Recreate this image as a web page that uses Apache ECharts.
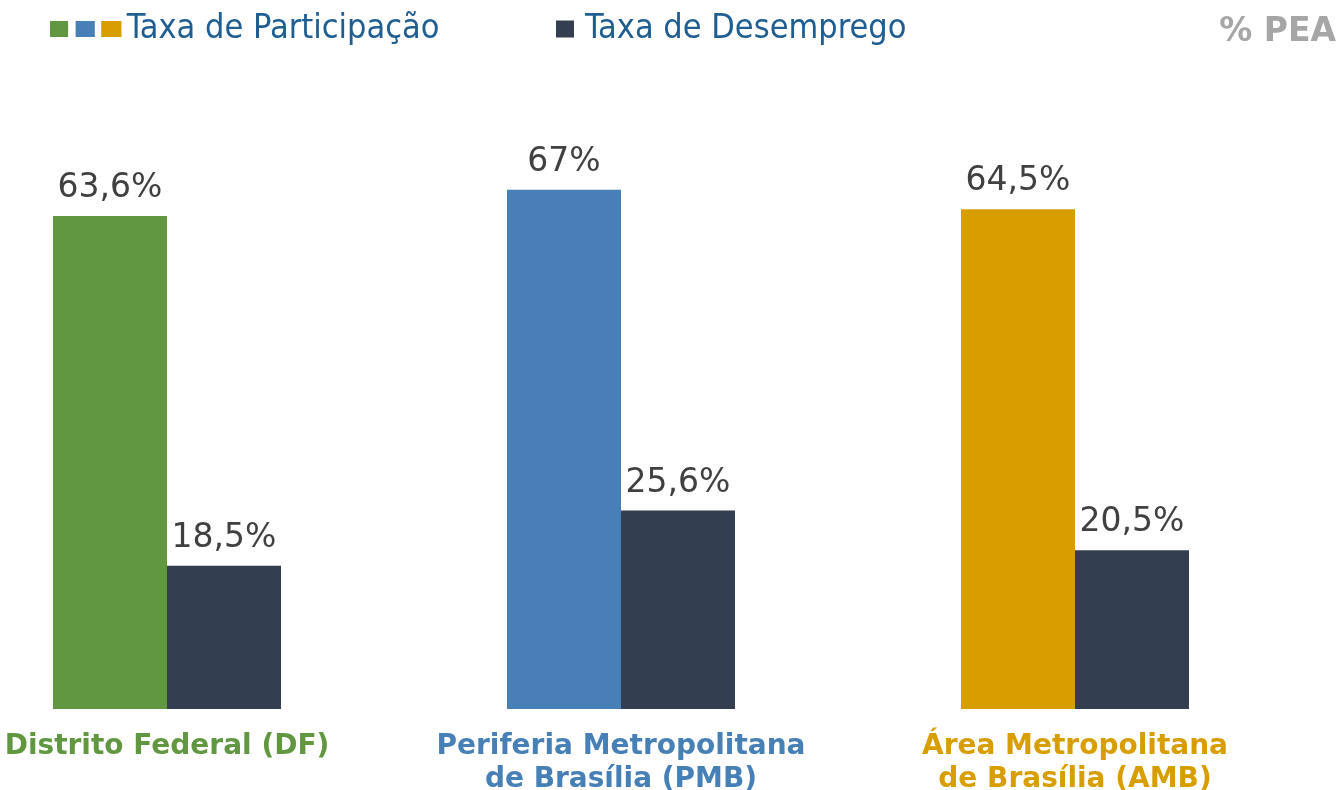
<!DOCTYPE html>
<html>
<head>
<meta charset="utf-8">
<script src="https://cdn.jsdelivr.net/npm/echarts@6/dist/echarts.min.js"></script>
<style>
	html, body { margin: 0; padding: 0; background: #fff; }
	#chart { width: 1340px; height: 790px; }
</style>
</head>
<body>
<div id="chart"></div>
<script>
// dados
var regioes = ['Distrito Federal (DF)', 'Periferia Metropolitana\nde Brasília (PMB)', 'Área Metropolitana\nde Brasília (AMB)'];
var coresRegiao = ['#609740', '#4780B6', '#D89E00'];
var taxaParticipacao = [63.6, 67, 64.5];
var taxaDesemprego = [18.5, 25.6, 20.5];
var nomesSeries = ['Taxa de Participação', 'Taxa de Desemprego'];

window.onload = function(){
	loadBar();
};

function fmt(v){
	return String(v).replace('.', ',') + '%';
}

function loadBar(){
	var chart = echarts.init(document.getElementById('chart'));
	var corDesemprego = '#333F50';
	var labelStyle = {
		show: true,
		position: 'top',
		distance: 11,
		color: '#404040',
		fontSize: 33,
		fontFamily: 'DejaVu Sans',
		formatter: function(p){ return fmt(p.value); }
	};
	var legendText = {
		color: '#1F5E92',
		fontSize: 34,
		fontFamily: 'DejaVu Sans Condensed, DejaVu Sans'
	};
	var option = {
		animation: false,
		title: {
			text: '% PEA',
			right: 4,
			top: 16,
			padding: 0,
			textStyle: {
				color: '#A6A6A6',
				fontSize: 33,
				fontWeight: 'bold',
				fontFamily: 'DejaVu Sans'
			}
		},
		legend: [
			{
				left: 45,
				top: 7,
				itemWidth: 72,
				itemHeight: 16,
				textStyle: legendText,
				data: [{
					name: nomesSeries[0],
					icon: 'path://M0,0h17v15h-17z M24,0h18v15h-18z M48,0h19v15h-19z',
					itemStyle: {
						color: new echarts.graphic.LinearGradient(0, 0, 1, 0, [
							{offset: 0, color: coresRegiao[0]},
							{offset: 0.33, color: coresRegiao[0]},
							{offset: 0.33, color: coresRegiao[1]},
							{offset: 0.66, color: coresRegiao[1]},
							{offset: 0.66, color: coresRegiao[2]},
							{offset: 1, color: coresRegiao[2]}
						])
					}
				}]
			},
			{
				left: 551,
				top: 7,
				itemWidth: 18,
				itemHeight: 17,
				icon: 'rect',
				textStyle: {
					color: legendText.color,
					fontSize: legendText.fontSize,
					fontFamily: legendText.fontFamily,
					padding: [0, 0, 0, 6]
				},
				data: [nomesSeries[1]]
			}
		],
		grid: {
			left: 167,
			right: 265,
			top: 89,
			bottom: 81,
			outerBoundsMode: 'none'
		},
		xAxis: {
			type: 'category',
			boundaryGap: false,
			data: regioes.map(function(r, i){
				return {value: r, textStyle: {color: coresRegiao[i]}};
			}),
			axisLine: {show: false},
			axisTick: {show: false},
			splitLine: {show: false},
			axisLabel: {
				margin: 21,
				fontSize: 28,
				lineHeight: 33,
				fontWeight: 'bold',
				fontFamily: 'DejaVu Sans',
				interval: 0
			}
		},
		yAxis: {
			type: 'value',
			min: 0,
			max: 80,
			show: false,
			splitLine: {show: false}
		},
		series: [
			{
				name: nomesSeries[0],
				type: 'bar',
				barWidth: 114,
				barGap: '0%',
				itemStyle: {color: coresRegiao[1]},
				label: labelStyle,
				data: taxaParticipacao.map(function(v, i){
					return {value: v, itemStyle: {color: coresRegiao[i]}};
				})
			},
			{
				name: nomesSeries[1],
				type: 'bar',
				barWidth: 114,
				barGap: '0%',
				itemStyle: {color: corDesemprego},
				label: labelStyle,
				data: taxaDesemprego
			}
		]
	};
	chart.setOption(option);
}
</script>
</body>
</html>
